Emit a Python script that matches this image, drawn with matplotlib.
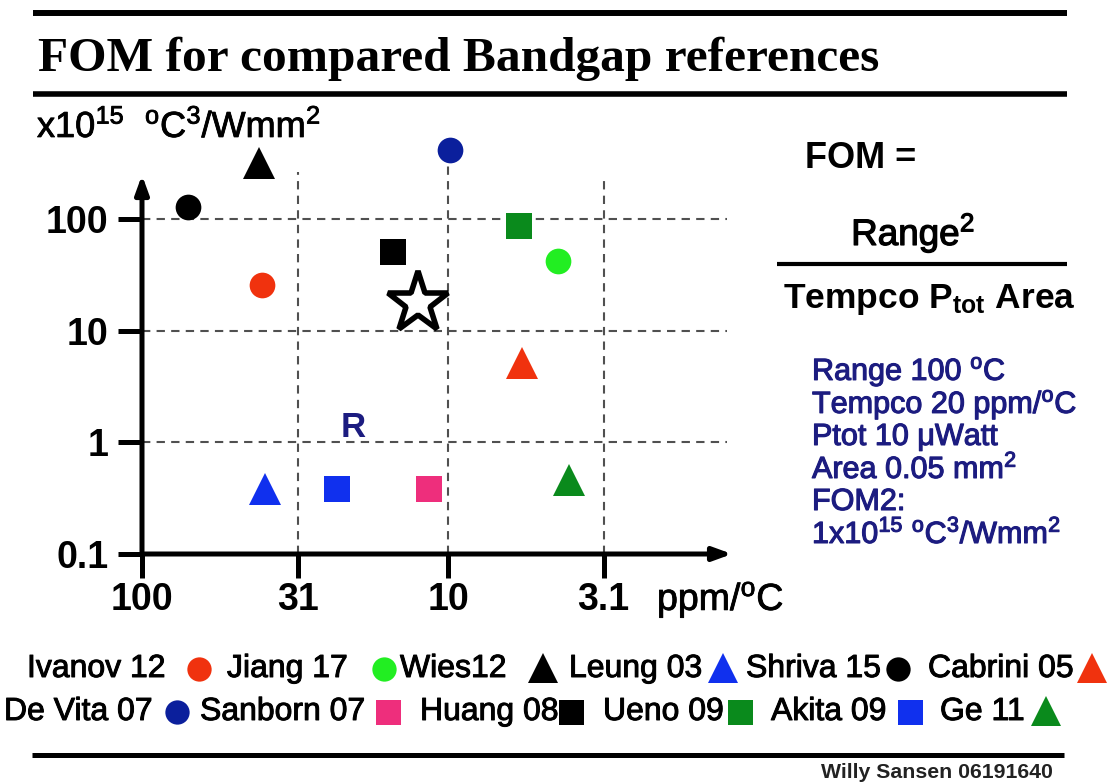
import numpy as np
import matplotlib
matplotlib.use("Agg")
import matplotlib.pyplot as plt
import matplotlib.patheffects as pe

plt.rcParams['font.family'] = ['Liberation Sans', 'DejaVu Sans']
plt.rcParams['mathtext.fontset'] = 'custom'
plt.rcParams['mathtext.rm'] = 'Liberation Sans'
plt.rcParams['mathtext.it'] = 'Liberation Sans:italic'
plt.rcParams['mathtext.bf'] = 'Liberation Sans:bold'
plt.rcParams['lines.scale_dashes'] = False

# ---------------- data ----------------
names = ["Ivanov 12", "Jiang 17", "Wies12", "Leung 03", "Shriva 15", "Cabrini 05",
         "De Vita 07", "Sanborn 07", "Huang 08", "Ueno 09", "Akita 09", "Ge 11"]
tempco = [40.6, 4.37, 41.5, 39.6, 70.7, 5.73, 9.85, 11.5, 15.1, 5.86, 23.1, 4.02]   # ppm/oC
fom = [25.6, 42.0, 316.0, 0.38, 128.0, 5.1, 414.0, 0.38, 50.6, 86.0, 0.38, 0.46]   # x1e15
markers = ["o", "o", "^", "^", "o", "^", "o", "s", "s", "s", "s", "^"]
colors = ["#f0320e", "#22ee22", "#000000", "#1030ee", "#000000", "#f0320e",
          "#0b1f9c", "#ee2e7c", "#000000", "#0a8a1c", "#1030ee", "#0a8a1c"]
this_work_tempco = [12.5]
this_work_fom = [17.7]

x_ticks = [100, 31, 10, 3.1]
x_ticklabels = ["100", "31", "10", "3.1"]
y_ticks = [0.1, 1, 10, 100]
y_ticklabels = ["0.1", "1", "10", "100"]

# ---------------- figure ----------------
W, H = 1113, 783
fig = plt.figure(figsize=(W / 100, H / 100), dpi=100)

def thick(color, w=0.7):
    return [pe.withStroke(linewidth=w, foreground=color)]

# overlay in pixel coordinates for slide decorations
ov = fig.add_axes([0, 0, 1, 1])
ov.set_xlim(0, W)
ov.set_ylim(H, 0)
ov.axis('off')

ov.plot([33, 1067], [13, 13], color='k', lw=4.3, solid_capstyle='butt')
ov.plot([33, 1067], [94, 94], color='k', lw=4.0, solid_capstyle='butt')
ov.plot([32, 1064], [755, 755], color='k', lw=3.6, solid_capstyle='butt')
ov.text(38, 71, "FOM for compared Bandgap references", family='Liberation Serif',
        fontweight='bold', fontsize=35.6, va='baseline', ha='left')
ov.text(37, 137, r"x10$^{15}$  $^{\mathrm{o}}$C$^{3}$/Wmm$^{2}$", fontsize=26,
        va='baseline', ha='left', path_effects=thick('k', 0.6))

# formula block
ov.text(805, 168, "FOM =", fontsize=26, fontweight='bold', va='baseline')
ov.text(913, 245, r"Range$^{2}$", fontsize=26.5, va='baseline', ha='center',
        path_effects=thick('k', 0.9))
ov.plot([777, 1067], [264, 264], color='k', lw=3.0, solid_capstyle='butt')
ov.text(929, 308, r"Tempco P$_{\mathbf{tot}}$ Area", fontsize=25.5, fontweight='bold',
        va='baseline', ha='center')

navy = "#1c1c80"
blue_lines = [r"Range 100 $^{\mathrm{o}}$C",
              r"Tempco 20 ppm/$^{\mathrm{o}}$C",
              r"Ptot 10 $\mathrm{\mu}$Watt",
              r"Area 0.05 mm$^{2}$",
              "FOM2:",
              r"1x10$^{15}$ $^{\mathrm{o}}$C$^{3}$/Wmm$^{2}$"]
blue_base = [380, 413, 445, 478, 510, 543]
for t, b in zip(blue_lines, blue_base):
    ov.text(812, b, t, fontsize=22, color=navy, va='baseline', ha='left',
            path_effects=thick(navy, 0.8))

ov.text(1053, 773, "Willy Sansen 06191640", fontsize=15.3, fontweight='bold',
        color='#222222', va='center', ha='right')

# legend rows (layout positions in pixels)
leg_text_x = [27, 227, 400, 569, 746, 928, 4, 200, 420, 603, 771, 940]
leg_mark_x = [199, 384, 543, 723, 898, 1092, 177, 388, 571, 740, 910, 1046]
leg_row_y = [669, 669, 669, 669, 669, 669, 712, 712, 712, 712, 712, 712]
msize = {"o": 17.5, "^": 22, "s": 18}
for i, nm in enumerate(names):
    ov.text(leg_text_x[i], leg_row_y[i], nm, fontsize=23, va='center', ha='left',
            path_effects=thick('k', 0.7))
    ov.plot([leg_mark_x[i]], [leg_row_y[i] - (1 if markers[i] == "^" else 0)],
            marker=markers[i], color=colors[i], ms=msize[markers[i]], ls='none',
            markeredgewidth=0)

# ---------------- main plot ----------------
px_left, px_right, py_top, py_bot = 142, 735, 140, 554
ax = fig.add_axes([px_left / W, (H - py_bot) / H, (px_right - px_left) / W,
                   (py_bot - py_top) / H])
ax.patch.set_alpha(0)
ax.set_xscale('log')
ax.set_yscale('log')
dec_x = 306.0
dec_y = 111.7
ax.set_xlim(100, 10 ** (2 - (px_right - px_left) / dec_x))
ax.set_ylim(0.1, 10 ** ((py_bot - py_top) / dec_y - 1))
for s in ax.spines.values():
    s.set_visible(False)

ax.set_xticks(x_ticks)
ax.set_xticklabels(x_ticklabels)
ax.set_yticks(y_ticks)
ax.set_yticklabels(y_ticklabels)
ax.minorticks_off()
ax.tick_params(axis='both', which='major', direction='out', length=17, width=3.6,
               color='k', labelsize=27, pad=3)
ax.tick_params(axis='y', pad=7)
for lab in ax.get_xticklabels() + ax.get_yticklabels():
    lab.set_fontweight('bold')

# axis arrows
arrow = dict(arrowstyle='-|>,head_length=0.55,head_width=0.2', lw=3.6, color='k',
             mutation_scale=20, shrinkA=0, shrinkB=0)
ax.annotate('', xy=(0.995, 0), xytext=(0, 0), xycoords='axes fraction',
            textcoords='axes fraction', arrowprops=arrow, annotation_clip=False)
ax.annotate('', xy=(0, (py_bot - 175) / (py_bot - py_top)), xytext=(0, 0),
            xycoords='axes fraction', textcoords='axes fraction', arrowprops=arrow,
            annotation_clip=False)

# partial dashed grid
grid_kw = dict(color='#505050', lw=1.5, linestyles=(0, (6, 4.5)), zorder=1)
xr = 10 ** (2 - (727 - px_left) / dec_x)
ax.hlines([100, 10, 1], 100, xr, **grid_kw)
vtops = [10 ** ((py_bot - 172) / dec_y - 1), 10 ** ((py_bot - 160) / dec_y - 1),
         10 ** ((py_bot - 175) / dec_y - 1)]
for xv, yt in zip([31, 10, 3.1], vtops):
    ax.vlines(xv, 0.1, yt, **grid_kw)

# data points
for i in range(len(names)):
    ax.plot(tempco[i], fom[i], marker=markers[i], color=colors[i], ms=msize[markers[i]] + 1,
            ls='none', markeredgewidth=0, clip_on=False, zorder=3)
ax.plot(this_work_tempco, this_work_fom, marker='*', ms=46, markerfacecolor='white',
        markeredgecolor='k', markeredgewidth=4.0, ls='none', clip_on=False, zorder=4)

ax.text(20.4, 1.37, "R", fontsize=25, fontweight='bold', color=navy, ha='center',
        va='center')

# x unit label
ov.text(657, 610, r"ppm/$^{\mathrm{o}}$C", fontsize=27, va='baseline', ha='left',
        path_effects=thick('k', 0.6))

fig.savefig("out.png", dpi=100)
